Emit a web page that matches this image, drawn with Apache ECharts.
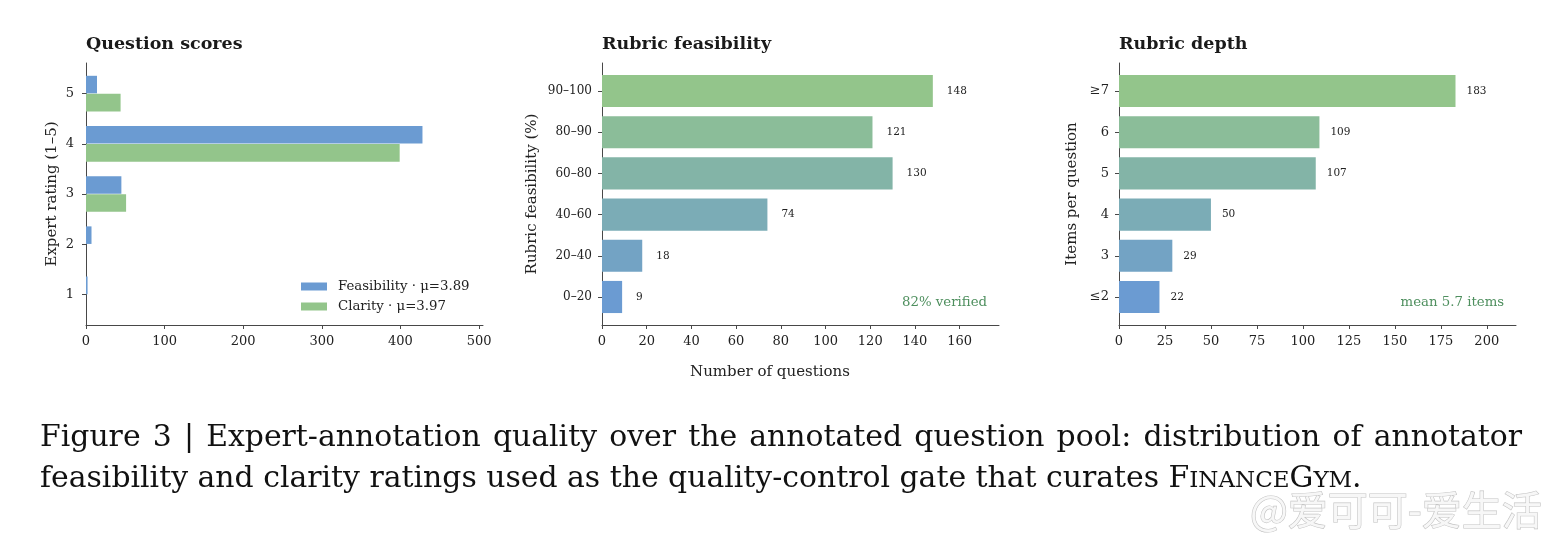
<!DOCTYPE html>
<html><head><meta charset="utf-8">
<script src="https://cdn.jsdelivr.net/npm/echarts@6/dist/echarts.min.js"></script>
<style>html,body{margin:0;padding:0;background:#fff}#c{width:1558px;height:542px}</style>
</head><body><div id="c"></div>
<script>
// ---------------- data ----------------
const ratingCats = [1, 2, 3, 4, 5];
const feasibilityCounts = [2, 7, 45, 428, 14];
const clarityCounts = [0, 0, 51, 399, 44];
const feasBins = ['0–20', '20–40', '40–60', '60–80', '80–90', '90–100'];
const feasBinCounts = [9, 18, 74, 130, 121, 148];
const depthBins = ['≤2', '3', '4', '5', '6', '≥7'];
const depthCounts = [22, 29, 50, 107, 109, 183];
const xTicks1 = [0, 100, 200, 300, 400, 500];
const xTicks2 = [0, 20, 40, 60, 80, 100, 120, 140, 160];
const xTicks3 = [0, 25, 50, 75, 100, 125, 150, 175, 200];
const binTickPos = [0, 1, 2, 3, 4, 5];
const seriesNames = ['Feasibility · μ=3.89', 'Clarity · μ=3.97'];
const captionLine1 = 'Figure 3 | Expert-annotation quality over the annotated question pool: distribution of annotator';
const captionLine2 = ['feasibility and clarity ratings used as the quality-control gate that curates ', 'F', 'INANCE', 'G', 'YM', '.'];

// ---------------- style ----------------
const SERIF = 'DejaVu Serif';
const BLUE = '#6b9bd2', GREEN = '#93c58b';
const gradColors = ['#6b9bd2', '#73a3c4', '#7bacb6', '#83b4a7', '#8bbd99', '#93c58b'];
const AX = '#484848', TXT = '#222';
const G = [
  {left: 86, top: 63, width: 397, height: 262},
  {left: 602, top: 63, width: 397, height: 262},
  {left: 1119, top: 63, width: 397, height: 262}
];

function xAxisCfg(gi, max, ticks) {
  return {
    gridIndex: gi, type: 'value', min: 0, max: max,
    axisLine: {show: true, onZero: false, lineStyle: {color: AX, width: 1}},
    axisTick: {show: true, customValues: ticks, length: 4, lineStyle: {color: AX}},
    axisLabel: {customValues: ticks, fontFamily: SERIF, fontSize: 13, color: TXT, margin: 10},
    splitLine: {show: false}
  };
}
function yAxisCfg(gi, min, max, ticks, fmt, name, gap, labelSize, margin) {
  return {
    gridIndex: gi, type: 'value', min: min, max: max,
    axisLine: {show: true, onZero: false, lineStyle: {color: AX, width: 1}},
    axisTick: {show: true, customValues: ticks, length: 4, lineStyle: {color: AX}},
    axisLabel: {customValues: ticks, fontFamily: SERIF, fontSize: labelSize, color: TXT, margin: margin, formatter: fmt},
    splitLine: {show: false},
    name: name, nameLocation: 'middle', nameGap: gap,
    nameTextStyle: {fontFamily: SERIF, fontSize: 15, color: TXT}
  };
}
function hbar(offset, height, colorFn, labelGap) {
  return function (params, api) {
    const v = api.value(0), c = api.value(1);
    const p0 = api.coord([0, c + offset + height / 2]);
    const p1 = api.coord([v, c + offset - height / 2]);
    const children = [{
      type: 'rect',
      shape: {x: p0[0], y: p0[1], width: p1[0] - p0[0], height: p1[1] - p0[1]},
      style: {fill: colorFn(params.dataIndex)}
    }];
    if (labelGap != null) {
      children.push({
        type: 'text', x: p1[0] + labelGap, y: (p0[1] + p1[1]) / 2,
        style: {text: String(v), fontFamily: SERIF, fontSize: 10.5, fill: TXT, verticalAlign: 'middle', align: 'left'}
      });
    }
    return {type: 'group', children: children};
  };
}

// ---------------- caption layout ----------------
const cvs = document.createElement('canvas').getContext('2d');
const CAP_FONT = 'DejaVu Serif';
function tw(t, size) { cvs.font = size + 'px "' + CAP_FONT + '"'; return cvs.measureText(t).width; }
function line2Width(size) {
  let w = 0;
  captionLine2.forEach(f => { w += tw(f, (f === 'INANCE' || f === 'YM') ? size * 0.77 : size); });
  return w;
}
const CAP_SIZE = 31 * 1322 / line2Width(31);
const SC_SIZE = CAP_SIZE * 0.77;
function txt(t, x, baseline, size, extra) {
  return {type: 'text', x: x, y: baseline - 0.3 * size, silent: true,
    style: Object.assign({text: t, fontFamily: CAP_FONT, fontSize: size, fill: '#111', verticalAlign: 'middle', align: 'left'}, extra || {})};
}
const graphics = [];
(function () {
  const words = captionLine1.split(' ');
  const L = 40, R = 1522;
  let total = 0; words.forEach(w => total += tw(w, CAP_SIZE));
  const gap = (R - L - total) / (words.length - 1);
  let x = L;
  words.forEach(w => { graphics.push(txt(w, x, 447, CAP_SIZE)); x += tw(w, CAP_SIZE) + gap; });
  x = L;
  captionLine2.forEach(frag => {
    const size = (frag === 'INANCE' || frag === 'YM') ? SC_SIZE : CAP_SIZE;
    graphics.push(txt(frag, x, 488, size));
    x += tw(frag, size);
  });
})();
// titles
[['Question scores', 86], ['Rubric feasibility', 602], ['Rubric depth', 1119]].forEach(t => {
  graphics.push({type: 'text', x: t[1], y: 50 - 0.3 * 17.5, silent: true,
    style: {text: t[0], fontFamily: SERIF, fontWeight: 'bold', fontSize: 17.5, fill: '#1a1a1a', verticalAlign: 'middle'}});
});
// x axis title of the middle panel
graphics.push({type: 'text', x: 770, y: 377 - 0.3 * 15, silent: true,
  style: {text: 'Number of questions', fontFamily: SERIF, fontSize: 15, fill: TXT, align: 'center', verticalAlign: 'middle'}});
// annotations
graphics.push({type: 'text', x: G[1].left + 0.97 * G[1].width, y: 306.5 - 0.3 * 13.3, silent: true,
  style: {text: '82% verified', fontFamily: SERIF, fontSize: 13.3, fill: '#4e8f5e', align: 'right', verticalAlign: 'middle'}});
graphics.push({type: 'text', x: G[2].left + 0.97 * G[2].width, y: 306.5 - 0.3 * 13.3, silent: true,
  style: {text: 'mean 5.7 items', fontFamily: SERIF, fontSize: 13.3, fill: '#4e8f5e', align: 'right', verticalAlign: 'middle'}});
// watermark
graphics.push({type: 'text', x: 1250, y: 510, silent: true,
  style: {text: '@爱可可-爱生活', fontFamily: 'Noto Sans CJK SC', fontSize: 40, fill: '#f7f7f7',
    stroke: '#c4c4c4', lineWidth: 1.2, verticalAlign: 'middle', align: 'left'}});

const option = {
  backgroundColor: '#fff',
  animation: false,
  grid: G,
  legend: {
    data: seriesNames, orient: 'vertical', left: 301, top: 280,
    itemWidth: 26, itemHeight: 8, itemGap: 7, icon: 'rect', padding: 0,
    textStyle: {fontFamily: SERIF, fontSize: 13.3, color: TXT, padding: [0, 0, 0, 6]}
  },
  xAxis: [
    xAxisCfg(0, 505, xTicks1),
    xAxisCfg(1, 177.6, xTicks2),
    xAxisCfg(2, 215.9, xTicks3)
  ],
  yAxis: [
    yAxisCfg(0, 0.39, 5.61, ratingCats, v => String(v), 'Expert rating (1–5)', 26, 13, 12),
    yAxisCfg(1, -0.68, 5.68, binTickPos, v => feasBins[Math.round(v)], 'Rubric feasibility (%)', 62, 12, 10),
    yAxisCfg(2, -0.68, 5.68, binTickPos, v => depthBins[Math.round(v)], 'Items per question', 39, 13, 10)
  ],
  series: [
    {type: 'custom', name: seriesNames[0], xAxisIndex: 0, yAxisIndex: 0, itemStyle: {color: BLUE},
      encode: {x: 0, y: 1}, data: feasibilityCounts.map((v, i) => [v, ratingCats[i]]),
      renderItem: hbar(0.18, 0.35, () => BLUE, null)},
    {type: 'custom', name: seriesNames[1], xAxisIndex: 0, yAxisIndex: 0, itemStyle: {color: GREEN},
      encode: {x: 0, y: 1}, data: clarityCounts.map((v, i) => [v, ratingCats[i]]),
      renderItem: hbar(-0.18, 0.35, () => GREEN, null)},
    {type: 'custom', name: 'feas', xAxisIndex: 1, yAxisIndex: 1,
      encode: {x: 0, y: 1}, data: feasBinCounts.map((v, i) => [v, binTickPos[i]]),
      renderItem: hbar(0, 0.78, i => gradColors[i], 14)},
    {type: 'custom', name: 'depth', xAxisIndex: 2, yAxisIndex: 2,
      encode: {x: 0, y: 1}, data: depthCounts.map((v, i) => [v, binTickPos[i]]),
      renderItem: hbar(0, 0.78, i => gradColors[i], 11)}
  ],
  graphic: graphics
};
const chart = echarts.init(document.getElementById('c'), null, {renderer: 'canvas'});
chart.setOption(option);
</script>
</body></html>
